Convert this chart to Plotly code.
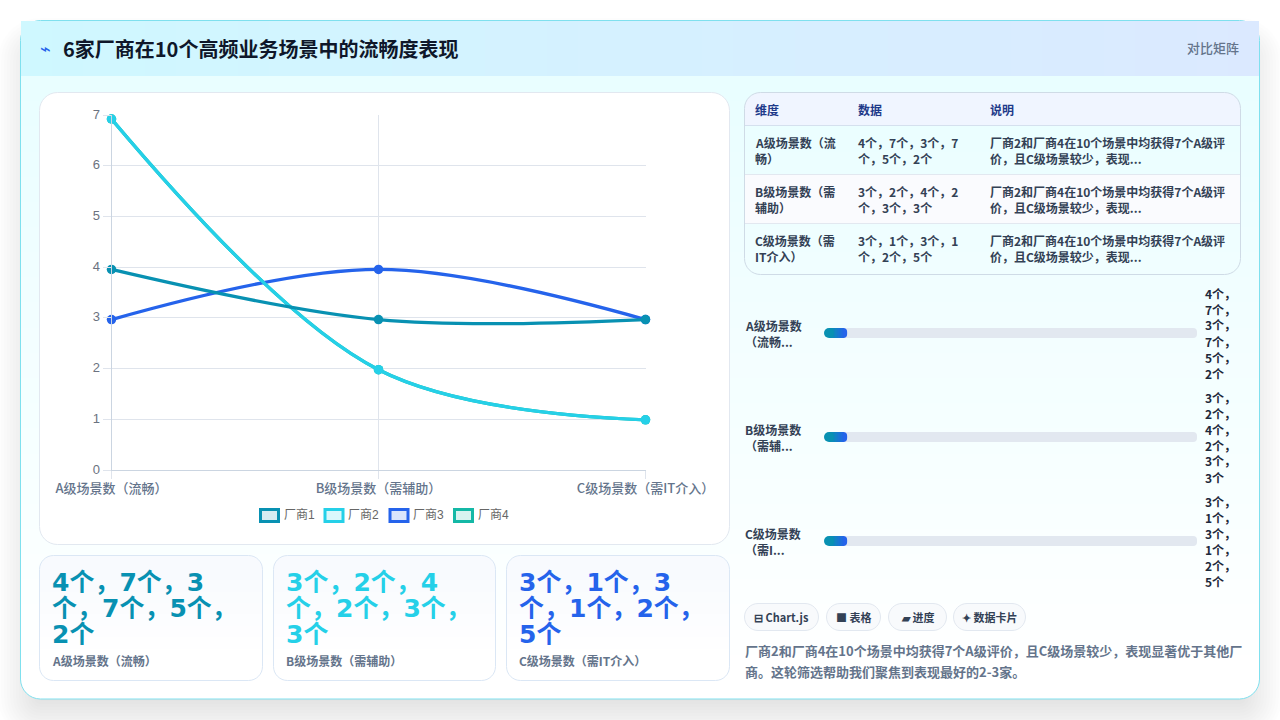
import plotly.graph_objects as go

# ---- chart data ----
categories = ["A级场景数（流畅）", "B级场景数（需辅助）", "C级场景数（需IT介入）"]
vendor_names = ["厂商1", "厂商2", "厂商3", "厂商4"]
vendor1 = [4, 3, 3]
vendor2 = [7, 2, 1]
vendor3 = [3, 4, 3]
vendor4 = [7, 2, 1]
vendor_colors = ["#0891b2", "#25d0e8", "#2563eb", "#14b8a6"]
vendor_fills = ["rgba(8,145,178,0.17)", "rgba(34,211,238,0.17)", "rgba(37,99,235,0.17)", "rgba(20,184,166,0.17)"]
y_ticks = [0, 1, 2, 3, 4, 5, 6, 7]

# ---- text content ----
title_text = "6家厂商在10个高频业务场景中的流畅度表现"
badge_text = "对比矩阵"
table_head = ["维度", "数据", "说明"]
table_col1 = [["A级场景数（流", "畅）"], ["B级场景数（需", "辅助）"], ["C级场景数（需", "IT介入）"]]
table_col2 = [["4个，7个，3个，7", "个，5个，2个"], ["3个，2个，4个，2", "个，3个，3个"], ["3个，1个，3个，1", "个，2个，5个"]]
table_note = ["厂商2和厂商4在10个场景中均获得7个A级评", "价，且C级场景较少，表现..."]
progress_labels = [["A级场景数", "（流畅..."], ["B级场景数", "（需辅..."], ["C级场景数", "（需I..."]]
progress_pct = [6.2, 6.2, 6.2]
progress_values = [
    ["4个，", "7个，", "3个，", "7个，", "5个，", "2个"],
    ["3个，", "2个，", "4个，", "2个，", "3个，", "3个"],
    ["3个，", "1个，", "3个，", "1个，", "2个，", "5个"],
]
card_lines = [
    ["4个，7个，3", "个，7个，5个，", "2个"],
    ["3个，2个，4", "个，2个，3个，", "3个"],
    ["3个，1个，3", "个，1个，2个，", "5个"],
]
card_colors = ["#0891b2", "#25d0e8", "#2563eb"]
chip_labels = ["⊟ Chart.js", "■ 表格", "▰ 进度", "✦ 数据卡片"]
summary_lines = [
    "厂商2和厂商4在10个场景中均获得7个A级评价，且C级场景较少，表现显著优于其他厂",
    "商。这轮筛选帮助我们聚焦到表现最好的2-3家。",
]

W, H = 1280, 720
CJK = "Noto Sans CJK SC, Noto Sans, sans-serif"
WIDE = "DejaVu Sans, Noto Sans CJK SC, sans-serif"
CHART = "Liberation Sans, Noto Sans CJK SC, sans-serif"


def px(x):
    return x / W


def py(y):
    return 1 - y / H


def rounded(x0, y0, x1, y1, r=(0, 0, 0, 0)):
    """SVG path of a box in page pixels; r is (top-left, top-right, bottom-right, bottom-left)."""
    tl, tr, br, bl = r
    k = 0.4477
    pts = [f"M{px(x0 + tl)},{py(y0)}", f"L{px(x1 - tr)},{py(y0)}"]
    if tr:
        pts.append(f"C{px(x1 - tr * k)},{py(y0)} {px(x1)},{py(y0 + tr * k)} {px(x1)},{py(y0 + tr)}")
    pts.append(f"L{px(x1)},{py(y1 - br)}")
    if br:
        pts.append(f"C{px(x1)},{py(y1 - br * k)} {px(x1 - br * k)},{py(y1)} {px(x1 - br)},{py(y1)}")
    pts.append(f"L{px(x0 + bl)},{py(y1)}")
    if bl:
        pts.append(f"C{px(x0 + bl * k)},{py(y1)} {px(x0)},{py(y1 - bl * k)} {px(x0)},{py(y1 - bl)}")
    pts.append(f"L{px(x0)},{py(y0 + tl)}")
    if tl:
        pts.append(f"C{px(x0)},{py(y0 + tl * k)} {px(x0 + tl * k)},{py(y0)} {px(x0 + tl)},{py(y0)}")
    return "".join(pts) + "Z"


def mix(c0, c1, t):
    a = [int(c0[i:i + 2], 16) for i in (1, 3, 5)]
    b = [int(c1[i:i + 2], 16) for i in (1, 3, 5)]
    return "#" + "".join(f"{round(u + (v - u) * t):02x}" for u, v in zip(a, b))


shapes = []
annotations = []


def box(x0, y0, x1, y1, r=0, fill=None, line=None, width=1):
    radii = r if isinstance(r, tuple) else (r, r, r, r)
    shapes.append(dict(
        type="path", xref="paper", yref="paper", layer="below",
        path=rounded(x0, y0, x1, y1, radii),
        fillcolor=fill or "rgba(0,0,0,0)",
        line=dict(color=line or "rgba(0,0,0,0)", width=width if line else 0),
    ))


def vertical_gradient(x0, y0, x1, y1, c0, c1, bands):
    step = (y1 - y0) / bands
    for i in range(bands):
        ya = round(y0 + i * step)
        yb = round(y0 + (i + 1) * step)
        box(x0, ya, x1, yb, fill=mix(c0, c1, (i + 0.5) / bands))


def horizontal_gradient(x0, y0, x1, y1, c0, c1, bands):
    step = (x1 - x0) / bands
    for i in range(bands):
        xa = round(x0 + i * step)
        xb = round(x0 + (i + 1) * step)
        box(xa, y0, xb, y1, fill=mix(c0, c1, (i + 0.5) / bands))


def text(x, y, s, size, color, family=CJK, weight=400, anchor="left"):
    annotations.append(dict(
        xref="paper", yref="paper", x=px(x), y=py(y), text=s, showarrow=False,
        xanchor=anchor, yanchor="middle", align=anchor, borderpad=0, borderwidth=0,
        font=dict(family=family, size=size, color=color, weight=weight),
    ))


# soft drop shadow beneath the panel
for i in range(16):
    spread = 22 - i * 3
    box(20 - spread, 40 - spread, 1260 + spread, 718 + spread, r=max(20 + spread, 4),
        fill="rgba(15,23,42,0.007)")

# panel
box(20.5, 20.5, 1259.5, 699, r=20, fill="#ffffff", line="#7fe0ee")
vertical_gradient(21, 76, 1259, 680, "#e9feff", "#ffffff", 24)

# header band
horizontal_gradient(21, 21, 1259, 76, "#cff8ff", "#dbe9ff", 40)
text(40, 49, "⌁", 18, "#2563eb", family="DejaVu Sans")
text(63, 49, title_text, 20, "#0f172a", weight=700)
text(1239, 48, badge_text, 13, "#64748b", weight=500, anchor="right")

# chart card
box(39.5, 92.5, 729.5, 544.5, r=18, fill="#ffffff", line="#e2e8f0")

# legend swatches
legend_x = [259, 323.5, 388.5, 453]
for name, lx, color, fill in zip(vendor_names, legend_x, vendor_colors, vendor_fills):
    box(lx + 1.5, 509.5, lx + 19.5, 521.5, fill=fill, line=color, width=3)
    text(lx + 24.5, 514.5, name, 12, "#666666", family=CHART)

# stat cards
card_x = [(39.5, 262.5), (273.5, 495.5), (506.5, 729.5)]
for (x0, x1), lines, color, label in zip(card_x, card_lines, card_colors, categories):
    box(x0, 555.5, x1, 680.5, r=14, fill="#f8fafe")
    vertical_gradient(x0 + 0.5, 569, x1 - 0.5, 660, "#f8fafe", "#ffffff", 8)
    box(x0, 660, x1, 680.5, r=(0, 0, 14, 14), fill="#ffffff")
    box(x0, 555.5, x1, 680.5, r=14, line="#dbe7f5")
    for j, line in enumerate(lines):
        text(x0 + 12.5, 582 + j * 26, line, 25, color, family=WIDE, weight=700)
    text(x0 + 12.5, 660, label, 12, "#64748b", weight=700)

# summary table
box(744.5, 92.5, 1240.5, 125.5, r=(16, 16, 0, 0), fill="#f0f5ff")
box(745, 175, 1240, 224, fill="#fafbfe")
for x, head in zip((754.5, 857.5, 989.5), table_head):
    text(x, 109, head, 12, "#1e3a8a", weight=700)
for i in range(3):
    y0 = 142.5 + i * 49
    for x, cell in ((754.5, table_col1[i]), (857.5, table_col2[i]), (989.5, table_note)):
        text(x, y0, cell[0], 12, "#334155", weight=600)
        text(x, y0 + 16, cell[1], 12, "#334155", weight=600)
for y, color in ((125.5, "#d5e0ee"), (174.5, "#e2e8f0"), (223.5, "#e2e8f0")):
    box(745, y, 1240, y, line=color)
box(744.5, 92.5, 1240.5, 274.5, r=16, line="#cfdbe6")

# progress row labels and values
for i in range(3):
    yc = 333 + i * 104
    text(745, yc - 7.5, progress_labels[i][0], 12, "#334155", weight=700)
    text(745, yc + 8.5, progress_labels[i][1], 12, "#334155", weight=700)
    for j, value in enumerate(progress_values[i]):
        text(1205, yc - 40 + j * 16, value, 12, "#1e293b", weight=700)

# feature chips
chip_x = [(744.5, 818.5), (826.5, 880.5), (888.5, 946.5), (953.5, 1025.5)]
for (x0, x1), label in zip(chip_x, chip_labels):
    box(x0, 603.5, x1, 630.5, r=13.5, fill="#f8fafc", line="#e2e8f0")
    text((x0 + x1) / 2, 617, label, 11, "#334155", weight=700, anchor="center")

# closing summary
text(745, 650, summary_lines[0], 13, "#64748b", weight=600)
text(745, 671, summary_lines[1], 13, "#64748b", weight=600)

fig = go.Figure()

# an empty series keeps the tick axis alive beneath the plotted series
fig.add_trace(go.Scatter(
    x=categories, y=[0, 0, 0], mode="lines", line=dict(width=0, color="rgba(0,0,0,0)"),
    hoverinfo="skip", showlegend=False, xaxis="x", yaxis="y",
))

# earlier vendors sit on top, so the series are added last to first
series = [vendor1, vendor2, vendor3, vendor4]
for name, values, color in reversed(list(zip(vendor_names, series, vendor_colors))):
    fig.add_trace(go.Scatter(
        x=categories, y=values, name=name, mode="lines+markers", cliponaxis=False,
        line=dict(color=color, width=3.3, shape="spline", smoothing=1.0),
        marker=dict(color=color, size=9.5),
        showlegend=False, xaxis="x", yaxis="y2",
    ))

# Progress bars: a bar only rounds its far end, so each starts one cap radius in
# and a circular marker closes the near end.
CAP = 1.34
FILL_LEFT = "#0891b2"
FILL_RIGHT = "#2563eb"
bar_style = dict(orientation="h", hoverinfo="skip", showlegend=False, xaxis="x3", yaxis="y3")
fig.add_trace(go.Bar(
    y=categories, x=[100 - CAP] * 3, base=[CAP] * 3,
    marker=dict(color="#e2e8f0", cornerradius=5, line=dict(width=0)), **bar_style,
))
fig.add_trace(go.Bar(
    y=categories, x=[p - CAP for p in progress_pct], base=[CAP] * 3,
    marker=dict(color=FILL_RIGHT, cornerradius=5, line=dict(width=0)), **bar_style,
))
BLEND_STEPS = 8
for k in range(1, BLEND_STEPS + 1):
    share = 1 - k / (BLEND_STEPS + 1)
    fig.add_trace(go.Bar(
        y=categories, x=[(p - 2 * CAP) * share + CAP * 0.6 for p in progress_pct], base=[CAP] * 3,
        marker=dict(color=mix(FILL_LEFT, FILL_RIGHT, share), line=dict(width=0)), **bar_style,
    ))
fig.add_trace(go.Scatter(
    y=categories, x=[CAP] * 3, mode="markers", marker=dict(color=FILL_LEFT, size=10, line=dict(width=0)),
    cliponaxis=False, hoverinfo="skip", showlegend=False, xaxis="x3", yaxis="y3",
))

GRID = "#dfe4ec"
fig.update_layout(
    width=W, height=H, margin=dict(l=0, r=0, t=0, b=0, autoexpand=False), autosize=False,
    paper_bgcolor="#ffffff", plot_bgcolor="rgba(0,0,0,0)",
    shapes=shapes, annotations=annotations, showlegend=False,
    barmode="overlay", bargap=0.904,
    xaxis=dict(
        domain=[px(111.5), px(645.5)], type="category", categoryorder="array", categoryarray=categories,
        range=[0, 2], showgrid=True, gridcolor=GRID, gridwidth=1,
        showline=True, linecolor="#cbd5e1", linewidth=1, zeroline=False,
        ticks="outside", ticklen=8, tickcolor=GRID, tickangle=0, ticklabelstandoff=-2,
        tickfont=dict(family=CJK, size=13, color="#64748b", weight=500), anchor="y",
    ),
    yaxis=dict(
        domain=[py(470), py(115)], range=[0, 7], tickvals=y_ticks, showgrid=True, gridcolor=GRID, gridwidth=1,
        showline=True, linecolor="#cbd5e1", linewidth=1, zeroline=False,
        ticks="outside", ticklen=8, tickcolor=GRID, ticklabelshift=-1,
        tickfont=dict(family=CHART, size=13, color="#6b7280"), anchor="x",
    ),
    # the series axis runs a little past the top tick so the highest point sits under the top gridline
    yaxis2=dict(domain=[py(470), py(115)], range=[0, 7.08], overlaying="y", visible=False, anchor="x"),
    xaxis3=dict(domain=[px(824), px(1197)], range=[0, 100], visible=False, anchor="y3"),
    yaxis3=dict(domain=[py(593), py(281)], type="category", categoryorder="array", categoryarray=categories,
                range=[2.5, -0.5], visible=False, anchor="x3"),
)

fig.write_html("out.html")
